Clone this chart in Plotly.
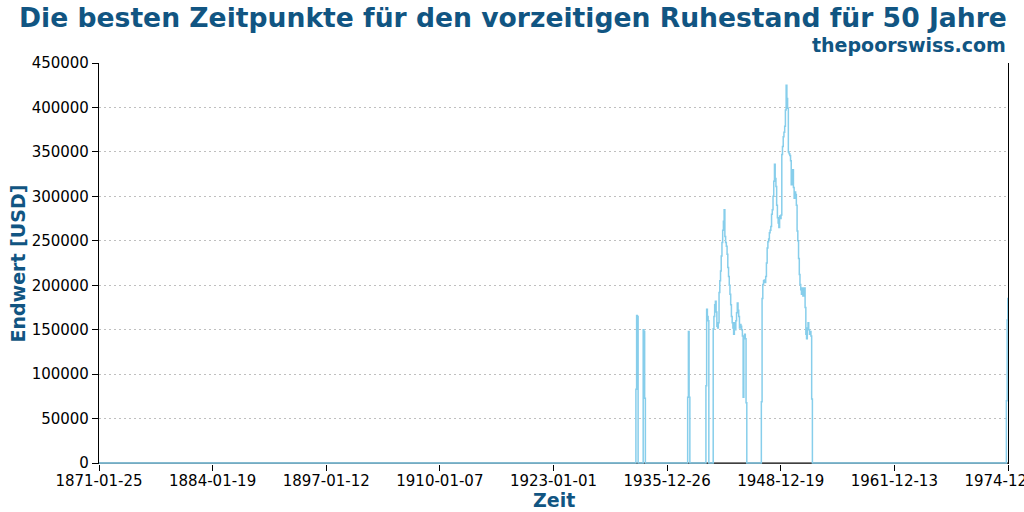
import pandas as pd
import plotly.graph_objects as go

# ---- data -------------------------------------------------------------
first_month = "1871-01-01"
last_month = "1974-12-01"

# months with a non-zero final value; all other months are 0
seg_starts = ["1932-06", "1933-04", "1938-05", "1940-06", "1941-04", "1946-10", "1974-10"]
seg_1932 = [83000, 166000, 165000]
seg_1933 = [150000, 148000, 73000]
seg_1938 = [74000, 148000, 74000]
seg_1940 = [87000, 173000, 165000, 160000]
seg_1941 = [151000, 165000, 178000, 182000, 170000, 154000, 152000, 158000, 192000, 205000,
            216000, 233000, 248000, 262000, 272000, 285000, 255000, 248000, 244000, 235000,
            220000, 210000, 200000, 190000, 178000, 165000, 158000, 152000, 145000, 158000,
            150000, 160000, 169000, 180000, 172000, 165000, 152000, 156000, 154000, 150000,
            143000, 74000, 143000, 145000, 140000, 68000]
seg_1946 = [69000, 185000, 201000, 205000, 206000, 203000, 210000, 225000, 242000, 249000,
            252000, 259000, 262000, 266000, 280000, 285000, 300000, 317000, 336000, 320000,
            311000, 290000, 276000, 270000, 265000, 278000, 275000, 279000, 347000, 356000,
            367000, 372000, 379000, 397000, 425000, 410000, 399000, 350000, 348000, 346000,
            340000, 313000, 317000, 330000, 310000, 298000, 305000, 302000, 290000, 261000,
            250000, 230000, 212000, 201000, 195000, 190000, 197000, 188000, 192000, 197000,
            175000, 145000, 140000, 152000, 158000, 150000, 145000, 148000, 143000, 72000]
seg_1974 = [70000, 161000, 186000]
seg_values = [seg_1932, seg_1933, seg_1938, seg_1940, seg_1941, seg_1946, seg_1974]

x_tick_labels = ["1871-01-25", "1884-01-19", "1897-01-12", "1910-01-07", "1923-01-01",
                 "1935-12-26", "1948-12-19", "1961-12-13", "1974-12-07"]
y_tick_values = [0, 50000, 100000, 150000, 200000, 250000, 300000, 350000, 400000, 450000]

# ---- build series -------------------------------------------------------
months = pd.date_range(first_month, last_month, freq="MS")
series = pd.Series(0.0, index=months)
for start, vals in zip(seg_starts, seg_values):
    idx = pd.date_range(start + "-01", periods=len(vals), freq="MS")
    series.loc[idx] = vals

blue = "#115582"
fig = go.Figure()
fig.add_trace(go.Scatter(x=series.index, y=series.values, mode="lines",
                         line=dict(color="#87CEEB", width=1.5, shape="hv"),
                         showlegend=False))

fig.update_layout(
    width=1024, height=512,
    margin=dict(l=99, r=16, t=63, b=48, autoexpand=False),
    paper_bgcolor="white", plot_bgcolor="white",
    font=dict(family="DejaVu Sans", size=15, color="black"),
    xaxis=dict(range=[x_tick_labels[0], x_tick_labels[-1]], tickvals=x_tick_labels,
               ticktext=x_tick_labels, showgrid=False, zeroline=False, automargin=False,
               showline=False, ticks="outside", ticklen=6, tickcolor="black", tickwidth=1,
               ticklabeloverflow="allow", ticklabelstandoff=-3,
               tickfont=dict(size=15)),
    yaxis=dict(range=[-1000, 450000], tickvals=y_tick_values, tickformat="d",
               showgrid=True, gridcolor="#bfbfbf", griddash="2px,3px", gridwidth=1,
               zeroline=False, showline=True, mirror=True, linecolor="black",
               linewidth=1.2, ticks="outside", ticklen=6, tickcolor="black",
               automargin=False, tickfont=dict(size=15)),
    shapes=[dict(type="line", xref="paper", yref="y", x0=0, x1=1, y0=0, y1=0,
                 line=dict(color="black", width=1.2), layer="below")],
    annotations=[
        dict(text="Die besten Zeitpunkte für den vorzeitigen Ruhestand für 50 Jahre",
             xref="paper", yref="paper", x=(513 - 99) / 909, y=(464 - 17) / 401,
             xanchor="center", yanchor="middle", showarrow=False,
             font=dict(family="DejaVu Sans", size=26.6, color=blue, weight="bold")),
        dict(text="thepoorswiss.com", xref="paper", yref="paper", x=1, y=(464 - 45) / 401,
             xanchor="right", yanchor="middle", showarrow=False,
             font=dict(family="DejaVu Sans", size=19, color=blue, weight="bold")),
        dict(text="Zeit", xref="paper", yref="paper", x=0.5, y=(464 - 500) / 401,
             xanchor="center", yanchor="middle", showarrow=False,
             font=dict(family="DejaVu Sans", size=19, color=blue, weight="bold")),
        dict(text="Endwert [USD]", xref="paper", yref="paper", x=(17 - 99) / 909, y=0.5,
             xanchor="center", yanchor="middle", textangle=-90, showarrow=False,
             font=dict(family="DejaVu Sans", size=19, color=blue, weight="bold")),
    ],
)

fig.write_html("out.html")
